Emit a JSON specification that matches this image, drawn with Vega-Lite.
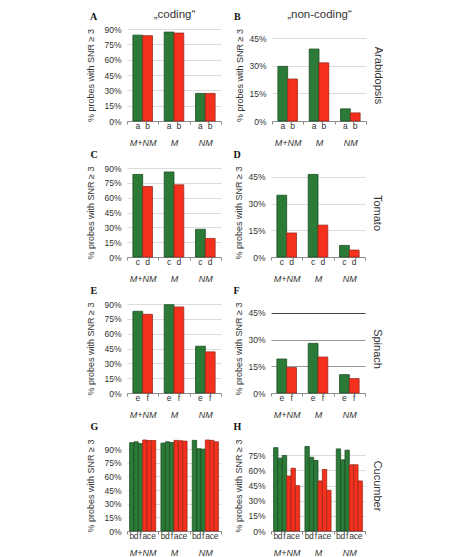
{
  "$schema": "https://vega.github.io/schema/vega-lite/v6.json",
  "padding": {"left": 86, "top": 8, "right": 0, "bottom": 0},
  "background": "white",
  "datasets": {
    "A": [
      {"g": "M+NM", "i": 0, "s": "a", "c": "g", "v": 0.84},
      {"g": "M+NM", "i": 1, "s": "b", "c": "r", "v": 0.835},
      {"g": "M", "i": 0, "s": "a", "c": "g", "v": 0.87},
      {"g": "M", "i": 1, "s": "b", "c": "r", "v": 0.86},
      {"g": "NM", "i": 0, "s": "a", "c": "g", "v": 0.27},
      {"g": "NM", "i": 1, "s": "b", "c": "r", "v": 0.27}
    ],
    "B": [
      {"g": "M+NM", "i": 0, "s": "a", "c": "g", "v": 0.297},
      {"g": "M+NM", "i": 1, "s": "b", "c": "r", "v": 0.228},
      {"g": "M", "i": 0, "s": "a", "c": "g", "v": 0.391},
      {"g": "M", "i": 1, "s": "b", "c": "r", "v": 0.316},
      {"g": "NM", "i": 0, "s": "a", "c": "g", "v": 0.066},
      {"g": "NM", "i": 1, "s": "b", "c": "r", "v": 0.044}
    ],
    "C": [
      {"g": "M+NM", "i": 0, "s": "c", "c": "g", "v": 0.835},
      {"g": "M+NM", "i": 1, "s": "d", "c": "r", "v": 0.713},
      {"g": "M", "i": 0, "s": "c", "c": "g", "v": 0.86},
      {"g": "M", "i": 1, "s": "d", "c": "r", "v": 0.73},
      {"g": "NM", "i": 0, "s": "c", "c": "g", "v": 0.28},
      {"g": "NM", "i": 1, "s": "d", "c": "r", "v": 0.188}
    ],
    "D": [
      {"g": "M+NM", "i": 0, "s": "c", "c": "g", "v": 0.347},
      {"g": "M+NM", "i": 1, "s": "d", "c": "r", "v": 0.135},
      {"g": "M", "i": 0, "s": "c", "c": "g", "v": 0.464},
      {"g": "M", "i": 1, "s": "d", "c": "r", "v": 0.179},
      {"g": "NM", "i": 0, "s": "c", "c": "g", "v": 0.065},
      {"g": "NM", "i": 1, "s": "d", "c": "r", "v": 0.039}
    ],
    "E": [
      {"g": "M+NM", "i": 0, "s": "e", "c": "g", "v": 0.826},
      {"g": "M+NM", "i": 1, "s": "f", "c": "r", "v": 0.796},
      {"g": "M", "i": 0, "s": "e", "c": "g", "v": 0.893},
      {"g": "M", "i": 1, "s": "f", "c": "r", "v": 0.87},
      {"g": "NM", "i": 0, "s": "e", "c": "g", "v": 0.473},
      {"g": "NM", "i": 1, "s": "f", "c": "r", "v": 0.416}
    ],
    "F": [
      {"g": "M+NM", "i": 0, "s": "e", "c": "g", "v": 0.191},
      {"g": "M+NM", "i": 1, "s": "f", "c": "r", "v": 0.143},
      {"g": "M", "i": 0, "s": "e", "c": "g", "v": 0.279},
      {"g": "M", "i": 1, "s": "f", "c": "r", "v": 0.202},
      {"g": "NM", "i": 0, "s": "e", "c": "g", "v": 0.103},
      {"g": "NM", "i": 1, "s": "f", "c": "r", "v": 0.081}
    ],
    "G": [
      {"g": "M+NM", "i": 0, "s": "b", "c": "g", "v": 0.97},
      {"g": "M+NM", "i": 1, "s": "d", "c": "g", "v": 0.98},
      {"g": "M+NM", "i": 2, "s": "f", "c": "g", "v": 0.96},
      {"g": "M+NM", "i": 3, "s": "a", "c": "r", "v": 1.0},
      {"g": "M+NM", "i": 4, "s": "c", "c": "r", "v": 0.995},
      {"g": "M+NM", "i": 5, "s": "e", "c": "r", "v": 0.995},
      {"g": "M", "i": 0, "s": "b", "c": "g", "v": 0.966},
      {"g": "M", "i": 1, "s": "d", "c": "g", "v": 0.98},
      {"g": "M", "i": 2, "s": "f", "c": "g", "v": 0.972},
      {"g": "M", "i": 3, "s": "a", "c": "r", "v": 0.996},
      {"g": "M", "i": 4, "s": "c", "c": "r", "v": 0.992},
      {"g": "M", "i": 5, "s": "e", "c": "r", "v": 0.988},
      {"g": "NM", "i": 0, "s": "b", "c": "g", "v": 0.996},
      {"g": "NM", "i": 1, "s": "d", "c": "g", "v": 0.904},
      {"g": "NM", "i": 2, "s": "f", "c": "g", "v": 0.9},
      {"g": "NM", "i": 3, "s": "a", "c": "r", "v": 1.0},
      {"g": "NM", "i": 4, "s": "c", "c": "r", "v": 0.996},
      {"g": "NM", "i": 5, "s": "e", "c": "r", "v": 0.98}
    ],
    "H": [
      {"g": "M+NM", "i": 0, "s": "b", "c": "g", "v": 0.824},
      {"g": "M+NM", "i": 1, "s": "d", "c": "g", "v": 0.72},
      {"g": "M+NM", "i": 2, "s": "f", "c": "g", "v": 0.747},
      {"g": "M+NM", "i": 3, "s": "a", "c": "r", "v": 0.544},
      {"g": "M+NM", "i": 4, "s": "c", "c": "r", "v": 0.621},
      {"g": "M+NM", "i": 5, "s": "e", "c": "r", "v": 0.449},
      {"g": "M", "i": 0, "s": "b", "c": "g", "v": 0.836},
      {"g": "M", "i": 1, "s": "d", "c": "g", "v": 0.729},
      {"g": "M", "i": 2, "s": "f", "c": "g", "v": 0.698},
      {"g": "M", "i": 3, "s": "a", "c": "r", "v": 0.495},
      {"g": "M", "i": 4, "s": "c", "c": "r", "v": 0.609},
      {"g": "M", "i": 5, "s": "e", "c": "r", "v": 0.403},
      {"g": "NM", "i": 0, "s": "b", "c": "g", "v": 0.812},
      {"g": "NM", "i": 1, "s": "d", "c": "g", "v": 0.704},
      {"g": "NM", "i": 2, "s": "f", "c": "g", "v": 0.799},
      {"g": "NM", "i": 3, "s": "a", "c": "r", "v": 0.655},
      {"g": "NM", "i": 4, "s": "c", "c": "r", "v": 0.655},
      {"g": "NM", "i": 5, "s": "e", "c": "r", "v": 0.495}
    ]
  },
  "vconcat": [
    {
      "hconcat": [
        {
          "width": 94, "height": 92,
          "data": {"name": "A"},
          "title": {"text": "A", "offset": -14, "dx": 3},
          "layer": [
            {
              "mark": {"type": "bar", "strokeWidth": 0.8},
              "encoding": {
                "x": {"field": "g", "type": "nominal", "sort": ["M+NM", "M", "NM"], "scale": {"paddingInner": 0, "paddingOuter": 0}, "axis": {"title": null, "labelAngle": 0, "labelFontStyle": "italic", "labelFontSize": 9, "labelPadding": 14, "tickBand": "extent", "tickSize": 3}},
                "xOffset": {"field": "i", "type": "ordinal", "scale": {"paddingInner": 0, "paddingOuter": 0.6}},
                "y": {"field": "v", "type": "quantitative", "scale": {"domain": [0, 0.9]}, "axis": {"values": [0, 0.15, 0.3, 0.45, 0.6, 0.75, 0.9], "format": ".0%", "title": "% probes with SNR ≥ 3", "titlePadding": 8}},
                "color": {"field": "c", "type": "nominal", "scale": {"domain": ["g", "r"], "range": ["#2b7a37", "#f5301c"]}, "legend": null},
                "stroke": {"field": "c", "type": "nominal", "scale": {"domain": ["g", "r"], "range": ["#1d4f24", "#9c2a1a"]}, "legend": null}
              }
            },
            {
              "mark": {"type": "text", "baseline": "top", "dy": 1, "fontSize": 8.5, "color": "#333", "font": "Liberation Sans"},
              "encoding": {
                "x": {"field": "g", "type": "nominal", "sort": ["M+NM", "M", "NM"], "scale": {"paddingInner": 0, "paddingOuter": 0}, "axis": {"orient": "top", "title": "„coding“", "labels": false, "ticks": false, "domain": false, "grid": false, "titlePadding": 10, "titleFontSize": 11.5}},
                "xOffset": {"field": "i", "type": "ordinal", "scale": {"paddingInner": 0, "paddingOuter": 0.6}},
                "y": {"datum": 0, "type": "quantitative", "axis": null},
                "text": {"field": "s"}
              }
            }
          ],
          "resolve": {"axis": {"x": "independent", "y": "independent"}}
        },
        {
          "width": 94, "height": 92,
          "data": {"name": "B"},
          "title": {"text": "B", "offset": -14, "dx": -2},
          "layer": [
            {
              "mark": {"type": "bar", "strokeWidth": 0.8},
              "encoding": {
                "x": {"field": "g", "type": "nominal", "sort": ["M+NM", "M", "NM"], "scale": {"paddingInner": 0, "paddingOuter": 0}, "axis": {"title": null, "labelAngle": 0, "labelFontStyle": "italic", "labelFontSize": 9, "labelPadding": 14, "tickBand": "extent", "tickSize": 3}},
                "xOffset": {"field": "i", "type": "ordinal", "scale": {"paddingInner": 0, "paddingOuter": 0.6}},
                "y": {"field": "v", "type": "quantitative", "scale": {"domain": [0, 0.466]}, "axis": {"values": [0, 0.15, 0.3, 0.45], "format": ".0%", "title": "% probes with SNR ≥ 3", "titlePadding": 4}},
                "color": {"field": "c", "type": "nominal", "scale": {"domain": ["g", "r"], "range": ["#2b7a37", "#f5301c"]}, "legend": null},
                "stroke": {"field": "c", "type": "nominal", "scale": {"domain": ["g", "r"], "range": ["#1d4f24", "#9c2a1a"]}, "legend": null}
              }
            },
            {
              "mark": {"type": "text", "baseline": "top", "dy": 1, "fontSize": 8.5, "color": "#333", "font": "Liberation Sans"},
              "encoding": {
                "x": {"field": "g", "type": "nominal", "sort": ["M+NM", "M", "NM"], "scale": {"paddingInner": 0, "paddingOuter": 0}, "axis": {"orient": "top", "title": "„non-coding“", "labels": false, "ticks": false, "domain": false, "grid": false, "titlePadding": 10, "titleFontSize": 11.5}},
                "xOffset": {"field": "i", "type": "ordinal", "scale": {"paddingInner": 0, "paddingOuter": 0.6}},
                "y": {"datum": 0, "type": "quantitative", "axis": null},
                "text": {"field": "s"}
              }
            },
            {
              "mark": {"type": "point", "opacity": 0},
              "encoding": {
                "y": {"field": "v", "type": "quantitative", "axis": {"orient": "right", "title": "Arabidopsis", "labels": false, "ticks": false, "domain": false, "grid": false, "titlePadding": 6, "titleFontSize": 11, "titleAngle": 90}}
              }
            }
          ],
          "resolve": {"axis": {"x": "independent", "y": "independent"}}
        }
      ],
      "resolve": {"scale": {"xOffset": "independent"}}
    },
    {
      "hconcat": [
        {
          "width": 94, "height": 89,
          "data": {"name": "C"},
          "layer": [
            {
              "mark": {"type": "bar", "strokeWidth": 0.8},
              "encoding": {
                "x": {"field": "g", "type": "nominal", "sort": ["M+NM", "M", "NM"], "scale": {"paddingInner": 0, "paddingOuter": 0}, "axis": {"title": null, "labelAngle": 0, "labelFontStyle": "italic", "labelFontSize": 9, "labelPadding": 14, "tickBand": "extent", "tickSize": 3}},
                "xOffset": {"field": "i", "type": "ordinal", "scale": {"paddingInner": 0, "paddingOuter": 0.6}},
                "y": {"field": "v", "type": "quantitative", "scale": {"domain": [0, 0.9]}, "axis": {"values": [0, 0.15, 0.3, 0.45, 0.6, 0.75, 0.9], "format": ".0%", "title": "% probes with SNR ≥ 3", "titlePadding": 8}},
                "color": {"field": "c", "type": "nominal", "scale": {"domain": ["g", "r"], "range": ["#2b7a37", "#f5301c"]}, "legend": null},
                "stroke": {"field": "c", "type": "nominal", "scale": {"domain": ["g", "r"], "range": ["#1d4f24", "#9c2a1a"]}, "legend": null}
              }
            },
            {
              "mark": {"type": "text", "baseline": "top", "dy": 1, "fontSize": 8.5, "color": "#333", "font": "Liberation Sans"},
              "encoding": {
                "x": {"field": "g", "type": "nominal", "sort": ["M+NM", "M", "NM"], "scale": {"paddingInner": 0, "paddingOuter": 0}, "axis": {"orient": "top", "title": "C", "labels": false, "ticks": false, "domain": false, "grid": false, "titleAnchor": "start", "titleAlign": "left", "titleBaseline": "alphabetic", "titleX": -37, "titleY": -11, "titleFont": "Liberation Serif", "titleFontWeight": "bold", "titleFontSize": 10, "titleColor": "#111"}},
                "xOffset": {"field": "i", "type": "ordinal", "scale": {"paddingInner": 0, "paddingOuter": 0.6}},
                "y": {"datum": 0, "type": "quantitative", "axis": null},
                "text": {"field": "s"}
              }
            }
          ],
          "resolve": {"axis": {"x": "independent", "y": "independent"}}
        },
        {
          "width": 94, "height": 89,
          "data": {"name": "D"},
          "layer": [
            {
              "mark": {"type": "bar", "strokeWidth": 0.8},
              "encoding": {
                "x": {"field": "g", "type": "nominal", "sort": ["M+NM", "M", "NM"], "scale": {"paddingInner": 0, "paddingOuter": 0}, "axis": {"title": null, "labelAngle": 0, "labelFontStyle": "italic", "labelFontSize": 9, "labelPadding": 14, "tickBand": "extent", "tickSize": 3}},
                "xOffset": {"field": "i", "type": "ordinal", "scale": {"paddingInner": 0, "paddingOuter": 0.6}},
                "y": {"field": "v", "type": "quantitative", "scale": {"domain": [0, 0.468]}, "axis": {"values": [0, 0.15, 0.3, 0.45], "format": ".0%", "title": "% probes with SNR ≥ 3", "titlePadding": 4}},
                "color": {"field": "c", "type": "nominal", "scale": {"domain": ["g", "r"], "range": ["#2b7a37", "#f5301c"]}, "legend": null},
                "stroke": {"field": "c", "type": "nominal", "scale": {"domain": ["g", "r"], "range": ["#1d4f24", "#9c2a1a"]}, "legend": null}
              }
            },
            {
              "mark": {"type": "text", "baseline": "top", "dy": 1, "fontSize": 8.5, "color": "#333", "font": "Liberation Sans"},
              "encoding": {
                "x": {"field": "g", "type": "nominal", "sort": ["M+NM", "M", "NM"], "scale": {"paddingInner": 0, "paddingOuter": 0}, "axis": {"orient": "top", "title": "D", "labels": false, "ticks": false, "domain": false, "grid": false, "titleAnchor": "start", "titleAlign": "left", "titleBaseline": "alphabetic", "titleX": -38, "titleY": -11, "titleFont": "Liberation Serif", "titleFontWeight": "bold", "titleFontSize": 10, "titleColor": "#111"}},
                "xOffset": {"field": "i", "type": "ordinal", "scale": {"paddingInner": 0, "paddingOuter": 0.6}},
                "y": {"datum": 0, "type": "quantitative", "axis": null},
                "text": {"field": "s"}
              }
            },
            {
              "mark": {"type": "point", "opacity": 0},
              "encoding": {
                "y": {"field": "v", "type": "quantitative", "axis": {"orient": "right", "title": "Tomato", "labels": false, "ticks": false, "domain": false, "grid": false, "titlePadding": 6, "titleFontSize": 11, "titleAngle": 90}}
              }
            }
          ],
          "resolve": {"axis": {"x": "independent", "y": "independent"}}
        }
      ],
      "resolve": {"scale": {"xOffset": "independent"}}
    },
    {
      "hconcat": [
        {
          "width": 94, "height": 89,
          "data": {"name": "E"},
          "layer": [
            {
              "mark": {"type": "bar", "strokeWidth": 0.8},
              "encoding": {
                "x": {"field": "g", "type": "nominal", "sort": ["M+NM", "M", "NM"], "scale": {"paddingInner": 0, "paddingOuter": 0}, "axis": {"title": null, "labelAngle": 0, "labelFontStyle": "italic", "labelFontSize": 9, "labelPadding": 14, "tickBand": "extent", "tickSize": 3}},
                "xOffset": {"field": "i", "type": "ordinal", "scale": {"paddingInner": 0, "paddingOuter": 0.6}},
                "y": {"field": "v", "type": "quantitative", "scale": {"domain": [0, 0.9]}, "axis": {"values": [0, 0.15, 0.3, 0.45, 0.6, 0.75, 0.9], "format": ".0%", "title": "% probes with SNR ≥ 3", "titlePadding": 8}},
                "color": {"field": "c", "type": "nominal", "scale": {"domain": ["g", "r"], "range": ["#2b7a37", "#f5301c"]}, "legend": null},
                "stroke": {"field": "c", "type": "nominal", "scale": {"domain": ["g", "r"], "range": ["#1d4f24", "#9c2a1a"]}, "legend": null}
              }
            },
            {
              "mark": {"type": "text", "baseline": "top", "dy": 1, "fontSize": 8.5, "color": "#333", "font": "Liberation Sans"},
              "encoding": {
                "x": {"field": "g", "type": "nominal", "sort": ["M+NM", "M", "NM"], "scale": {"paddingInner": 0, "paddingOuter": 0}, "axis": {"orient": "top", "title": "E", "labels": false, "ticks": false, "domain": false, "grid": false, "titleAnchor": "start", "titleAlign": "left", "titleBaseline": "alphabetic", "titleX": -37, "titleY": -11, "titleFont": "Liberation Serif", "titleFontWeight": "bold", "titleFontSize": 10, "titleColor": "#111"}},
                "xOffset": {"field": "i", "type": "ordinal", "scale": {"paddingInner": 0, "paddingOuter": 0.6}},
                "y": {"datum": 0, "type": "quantitative", "axis": null},
                "text": {"field": "s"}
              }
            }
          ],
          "resolve": {"axis": {"x": "independent", "y": "independent"}}
        },
        {
          "width": 94, "height": 89,
          "data": {"name": "F"},
          "layer": [
            {
              "mark": {"type": "bar", "strokeWidth": 0.8},
              "encoding": {
                "x": {"field": "g", "type": "nominal", "sort": ["M+NM", "M", "NM"], "scale": {"paddingInner": 0, "paddingOuter": 0}, "axis": {"title": null, "labelAngle": 0, "labelFontStyle": "italic", "labelFontSize": 9, "labelPadding": 14, "tickBand": "extent", "tickSize": 3}},
                "xOffset": {"field": "i", "type": "ordinal", "scale": {"paddingInner": 0, "paddingOuter": 0.6}},
                "y": {"field": "v", "type": "quantitative", "scale": {"domain": [0, 0.462]}, "axis": {"values": [0, 0.15, 0.3, 0.45], "format": ".0%", "title": "% probes with SNR ≥ 3", "titlePadding": 4, "gridColor": {"condition": {"test": "datum.value >= 0.45", "value": "#444444"}, "value": "#999999"}}},
                "color": {"field": "c", "type": "nominal", "scale": {"domain": ["g", "r"], "range": ["#2b7a37", "#f5301c"]}, "legend": null},
                "stroke": {"field": "c", "type": "nominal", "scale": {"domain": ["g", "r"], "range": ["#1d4f24", "#9c2a1a"]}, "legend": null}
              }
            },
            {
              "mark": {"type": "text", "baseline": "top", "dy": 1, "fontSize": 8.5, "color": "#333", "font": "Liberation Sans"},
              "encoding": {
                "x": {"field": "g", "type": "nominal", "sort": ["M+NM", "M", "NM"], "scale": {"paddingInner": 0, "paddingOuter": 0}, "axis": {"orient": "top", "title": "F", "labels": false, "ticks": false, "domain": false, "grid": false, "titleAnchor": "start", "titleAlign": "left", "titleBaseline": "alphabetic", "titleX": -38, "titleY": -11, "titleFont": "Liberation Serif", "titleFontWeight": "bold", "titleFontSize": 10, "titleColor": "#111"}},
                "xOffset": {"field": "i", "type": "ordinal", "scale": {"paddingInner": 0, "paddingOuter": 0.6}},
                "y": {"datum": 0, "type": "quantitative", "axis": null},
                "text": {"field": "s"}
              }
            },
            {
              "mark": {"type": "point", "opacity": 0},
              "encoding": {
                "y": {"field": "v", "type": "quantitative", "axis": {"orient": "right", "title": "Spinach", "labels": false, "ticks": false, "domain": false, "grid": false, "titlePadding": 6, "titleFontSize": 11, "titleAngle": 90}}
              }
            }
          ],
          "resolve": {"axis": {"x": "independent", "y": "independent"}}
        }
      ],
      "resolve": {"scale": {"xOffset": "independent"}}
    },
    {
      "hconcat": [
        {
          "width": 94, "height": 91,
          "data": {"name": "G"},
          "layer": [
            {
              "mark": {"type": "bar", "strokeWidth": 0.8},
              "encoding": {
                "x": {"field": "g", "type": "nominal", "sort": ["M+NM", "M", "NM"], "scale": {"paddingInner": 0, "paddingOuter": 0}, "axis": {"title": null, "labelAngle": 0, "labelFontStyle": "italic", "labelFontSize": 9, "labelPadding": 14, "tickBand": "extent", "tickSize": 3}},
                "xOffset": {"field": "i", "type": "ordinal", "scale": {"paddingInner": 0, "paddingOuter": 0.6}},
                "y": {"field": "v", "type": "quantitative", "scale": {"domain": [0, 1]}, "axis": {"values": [0, 0.15, 0.3, 0.45, 0.6, 0.75, 0.9], "format": ".0%", "title": "% probes with SNR ≥ 3", "titlePadding": 8}},
                "color": {"field": "c", "type": "nominal", "scale": {"domain": ["g", "r"], "range": ["#2b7a37", "#f5301c"]}, "legend": null},
                "stroke": {"field": "c", "type": "nominal", "scale": {"domain": ["g", "r"], "range": ["#1d4f24", "#9c2a1a"]}, "legend": null}
              }
            },
            {
              "mark": {"type": "text", "baseline": "top", "dy": 1, "fontSize": 8.5, "color": "#333", "font": "Liberation Sans"},
              "encoding": {
                "x": {"field": "g", "type": "nominal", "sort": ["M+NM", "M", "NM"], "scale": {"paddingInner": 0, "paddingOuter": 0}, "axis": {"orient": "top", "title": "G", "labels": false, "ticks": false, "domain": false, "grid": false, "titleAnchor": "start", "titleAlign": "left", "titleBaseline": "alphabetic", "titleX": -37, "titleY": -11, "titleFont": "Liberation Serif", "titleFontWeight": "bold", "titleFontSize": 10, "titleColor": "#111"}},
                "xOffset": {"field": "i", "type": "ordinal", "scale": {"paddingInner": 0, "paddingOuter": 0.6}},
                "y": {"datum": 0, "type": "quantitative", "axis": null},
                "text": {"field": "s"}
              }
            }
          ],
          "resolve": {"axis": {"x": "independent", "y": "independent"}}
        },
        {
          "width": 94, "height": 91,
          "data": {"name": "H"},
          "layer": [
            {
              "mark": {"type": "bar", "strokeWidth": 0.8},
              "encoding": {
                "x": {"field": "g", "type": "nominal", "sort": ["M+NM", "M", "NM"], "scale": {"paddingInner": 0, "paddingOuter": 0}, "axis": {"title": null, "labelAngle": 0, "labelFontStyle": "italic", "labelFontSize": 9, "labelPadding": 14, "tickBand": "extent", "tickSize": 3}},
                "xOffset": {"field": "i", "type": "ordinal", "scale": {"paddingInner": 0, "paddingOuter": 0.6}},
                "y": {"field": "v", "type": "quantitative", "scale": {"domain": [0, 0.84]}, "axis": {"values": [0, 0.15, 0.3, 0.45, 0.6, 0.75], "format": ".0%", "title": "% probes with SNR ≥ 3", "titlePadding": 4}},
                "color": {"field": "c", "type": "nominal", "scale": {"domain": ["g", "r"], "range": ["#2b7a37", "#f5301c"]}, "legend": null},
                "stroke": {"field": "c", "type": "nominal", "scale": {"domain": ["g", "r"], "range": ["#1d4f24", "#9c2a1a"]}, "legend": null}
              }
            },
            {
              "mark": {"type": "text", "baseline": "top", "dy": 1, "fontSize": 8.5, "color": "#333", "font": "Liberation Sans"},
              "encoding": {
                "x": {"field": "g", "type": "nominal", "sort": ["M+NM", "M", "NM"], "scale": {"paddingInner": 0, "paddingOuter": 0}, "axis": {"orient": "top", "title": "H", "labels": false, "ticks": false, "domain": false, "grid": false, "titleAnchor": "start", "titleAlign": "left", "titleBaseline": "alphabetic", "titleX": -38, "titleY": -11, "titleFont": "Liberation Serif", "titleFontWeight": "bold", "titleFontSize": 10, "titleColor": "#111"}},
                "xOffset": {"field": "i", "type": "ordinal", "scale": {"paddingInner": 0, "paddingOuter": 0.6}},
                "y": {"datum": 0, "type": "quantitative", "axis": null},
                "text": {"field": "s"}
              }
            },
            {
              "mark": {"type": "point", "opacity": 0},
              "encoding": {
                "y": {"field": "v", "type": "quantitative", "axis": {"orient": "right", "title": "Cucumber", "labels": false, "ticks": false, "domain": false, "grid": false, "titlePadding": 6, "titleFontSize": 11, "titleAngle": 90}}
              }
            }
          ],
          "resolve": {"axis": {"x": "independent", "y": "independent"}}
        }
      ],
      "resolve": {"scale": {"xOffset": "independent"}}
    }
  ],
  "spacing": 2,
  "resolve": {"scale": {"xOffset": "independent"}},
  "config": {
    "concat": {"spacing": 11},
    "view": {"stroke": null},
    "title": {"anchor": "start", "frame": "bounds", "font": "Liberation Serif", "fontSize": 10, "fontWeight": "bold", "color": "#111"},
    "axis": {"labelFont": "Liberation Sans", "labelFontSize": 8.5, "labelColor": "#333", "titleFont": "Liberation Sans", "titleFontSize": 9, "titleFontWeight": "normal", "titleColor": "#333", "domainColor": "#8c8c8c", "tickColor": "#8c8c8c", "gridColor": "#dcdcdc"},
    "axisY": {"domain": false, "ticks": false, "tickSize": 0, "labelPadding": 6, "grid": true},
    "axisX": {"grid": false}
  }
}
